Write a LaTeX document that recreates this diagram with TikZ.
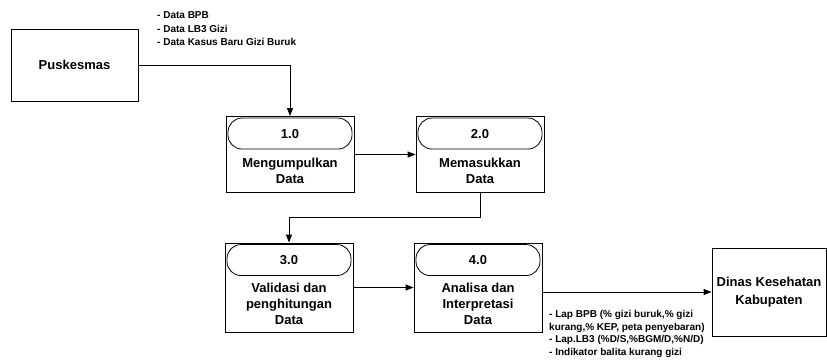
\documentclass[tikz,border=0pt]{standalone}
\usepackage{fontspec}
\setmainfont{Liberation Sans}
\usetikzlibrary{positioning,calc,arrows.meta}

\tikzset{
  proc/.style={draw, line width=0.9pt, minimum width=128pt, inner sep=0pt},
  head/.style={draw, line width=0.8pt, rounded corners=14pt, minimum width=124pt, minimum height=31pt, inner sep=0pt, font=\fontsize{13}{16}\selectfont\bfseries},
  body/.style={align=center, inner sep=0pt, font=\fontsize{13}{16}\selectfont\bfseries},
  ext/.style={draw, line width=0.9pt, align=center, inner sep=0pt, font=\fontsize{13}{18}\selectfont\bfseries},
  flow/.style={line width=0.9pt, -{Triangle[length=8pt,width=6pt]}},
  note/.style={align=left, inner sep=0pt, anchor=west},
}

\begin{document}
\begin{tikzpicture}[x=1pt,y=-1pt]
	\useasboundingbox (0,0) rectangle (827,361);
		% external entities
		\node[ext, minimum width=127pt, minimum height=72pt] (pusk) at (74.5,65) {Puskesmas};
		\node[ext, minimum width=114pt, minimum height=88pt] (dinas) at (769,292) {Dinas Kesehatan\\Kabupaten};
		% processes
		\node[proc, minimum height=76pt] (p1) at (290,154.5) {};
		\node[proc, minimum height=76pt] (p2) at (480,154.5) {};
		\node[proc, minimum height=89pt] (p3) at (289,287.5) {};
		\node[proc, minimum height=89pt] (p4) at (478,287.5) {};
		\node[head] (p1h) at ([yshift=-17.5pt]p1.north) {1.0};
		\node[head] (p2h) at ([yshift=-17.5pt]p2.north) {2.0};
		\node[head] (p3h) at ([yshift=-17.5pt]p3.north) {3.0};
		\node[head] (p4h) at ([yshift=-17.5pt]p4.north) {4.0};
		\node[body] (p1b) at ($(p1h.south)!0.5!(p1.south)$) {Mengumpulkan\\Data};
		\node[body] (p2b) at ($(p2h.south)!0.5!(p2.south)$) {Memasukkan\\Data};
		\node[body] (p3b) at ($(p3h.south)!0.5!(p3.south)$) {Validasi dan\\penghitungan\\Data};
		\node[body] (p4b) at ($(p4h.south)!0.5!(p4.south)$) {Analisa dan\\Interpretasi\\Data};
		% data flows
		\draw[flow] (pusk.east) -| (p1.north);
		\draw[flow] (p1.east) -- (p2.west);
		\draw[flow] (p2.south) -- ++(0,24) -| (p3.north);
		\draw[flow] (p3.east) -- (p4.west);
		\draw[flow] (p4.east |- dinas.west) -- (dinas.west);
		\node[note, font=\fontsize{10}{13.5}\selectfont\bfseries] (datain) at (157,29) {- Data BPB\\- Data LB3 Gizi\\- Data Kasus Baru Gizi Buruk};
		\node[note, font=\fontsize{10}{12.5}\selectfont\bfseries] (lapout) at (549,334) {- Lap BPB (\% gizi buruk,\% gizi\\kurang,\% KEP, peta penyebaran)\\- Lap.LB3 (\%D/S,\%BGM/D,\%N/D)\\- Indikator balita kurang gizi};
\end{tikzpicture}
\end{document}
